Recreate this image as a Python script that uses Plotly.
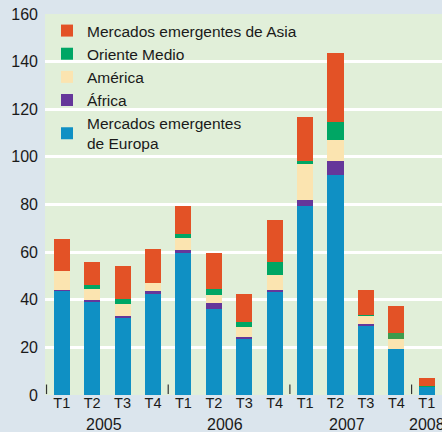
import plotly.graph_objects as go

quarters = ["T1", "T2", "T3", "T4", "T1", "T2", "T3", "T4", "T1", "T2", "T3", "T4", "T1"]
years = ["2005", "2006", "2007", "2008"]
year_pos = [1.38, 5.38, 9.38, 12.0]
separators = [-0.5, 3.5, 7.5, 11.5]

europa = [43.9, 39.2, 32.5, 42.6, 59.6, 36.3, 23.6, 43.5, 79.5, 92.6, 29.2, 19.3, 3.5]
africa = [0.4, 0.9, 0.5, 0.9, 1.2, 2.5, 0.8, 0.4, 2.5, 5.5, 0.8, 0.0, 0.0]
america = [7.6, 4.6, 5.4, 3.4, 5.1, 3.4, 4.2, 6.4, 15.3, 8.9, 3.4, 4.3, 0.0]
oriente = [0.0, 1.3, 2.1, 0.0, 1.8, 2.5, 2.2, 5.5, 0.8, 7.8, 0.3, 2.4, 0.4]
asia = [13.6, 9.8, 13.6, 14.4, 11.8, 14.9, 11.8, 17.8, 18.6, 28.7, 10.2, 11.5, 3.1]

FONT = "Liberation Sans, Arial, sans-serif"
TXT = "#1a1a1a"

green_cols = ["#00a664"] * len(quarters)
green_cols[11] = "#3d9b4c"

series = [
    ("Mercados emergentes<br>de Europa", europa, "#0f90c4"),
    ("África", africa, "#65379a"),
    ("América", america, "#fbe4b0"),
    ("Oriente Medio", oriente, green_cols),
    ("Mercados emergentes de Asia", asia, "#e35226"),
]

x = list(range(len(quarters)))
fig = go.Figure()
for i, (name, vals, color) in enumerate(series):
    fig.add_trace(go.Bar(x=x, y=vals, name=name, legendgroup="g%d" % i,
                         marker=dict(color=color, line=dict(width=0)), width=0.53))

for s in separators:
    fig.add_shape(type="line", xref="x", yref="y", x0=s, x1=s, y0=0.4, y1=4.4,
                  line=dict(color="#333333", width=1.2))

for yr, p in zip(years, year_pos):
    fig.add_annotation(x=p, y=0, xref="x", yref="paper", yshift=-29, text=yr,
                       showarrow=False, yanchor="middle",
                       font=dict(family=FONT, size=16, color=TXT))

fig.update_layout(
    width=442, height=432,
    margin=dict(l=45, r=0, t=14, b=37),
    barmode="stack",
    paper_bgcolor="#dbe5ed",
    plot_bgcolor="#e1efd9",
    font=dict(family=FONT, size=16, color=TXT),
    showlegend=True,
    legend=dict(traceorder="reversed", x=0.005, y=1.0, xanchor="left", yanchor="top",
                bgcolor="rgba(0,0,0,0)", font=dict(family=FONT, size=15.5, color=TXT),
                tracegroupgap=1.5, itemclick=False),
    xaxis=dict(range=[-0.55, 12.5], tickmode="array", tickvals=x, ticktext=quarters,
               showgrid=False, zeroline=False, showline=False, ticks="",
               ticklabelstandoff=-3,
               tickfont=dict(family=FONT, size=14.5, color=TXT)),
    yaxis=dict(range=[0, 160], dtick=20, showgrid=True, gridcolor="#ffffff", gridwidth=2.5,
               zeroline=False, showline=False, ticks="", ticklabelstandoff=6,
               tickfont=dict(family=FONT, size=16, color=TXT)),
)

fig.write_html("out.html", config={"displayModeBar": False},
               post_script="document.body.style.margin='0';document.body.style.background='#dbe5ed';")
